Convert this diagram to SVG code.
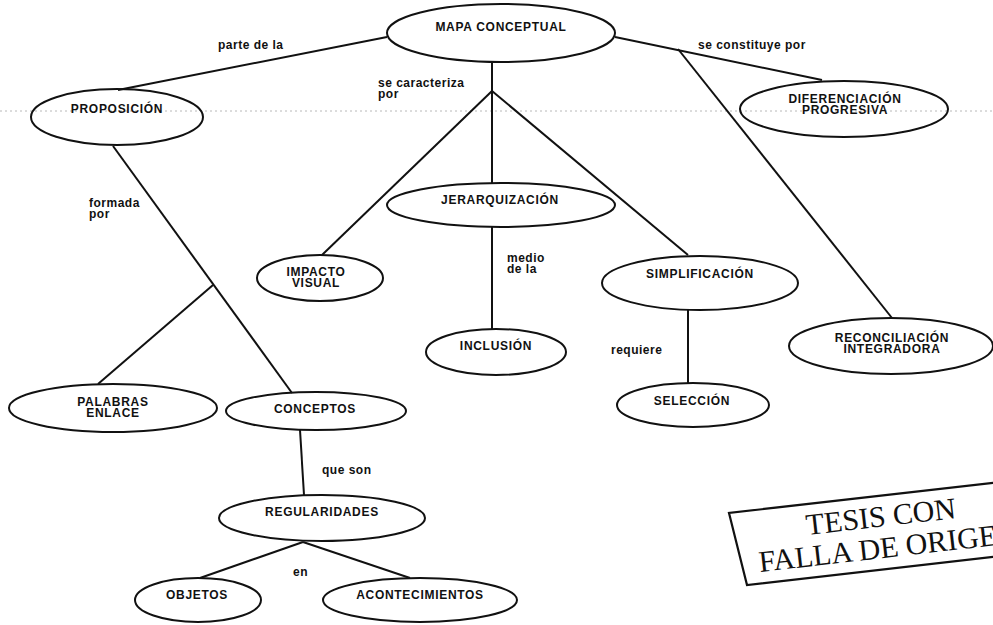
<svg xmlns="http://www.w3.org/2000/svg" width="993" height="625" viewBox="0 0 993 625">
<style>
.n ellipse{fill:none;stroke:#111;stroke-width:2}
.n text{font-family:"Liberation Sans",Arial,sans-serif;font-weight:bold;font-size:12px;letter-spacing:0.7px;fill:#111;text-anchor:middle}
.lbl{font-family:"Liberation Sans",Arial,sans-serif;font-weight:bold;font-size:12px;letter-spacing:0.5px;fill:#111}
#connectors line,#connectors polyline{stroke:#111;stroke-width:2;fill:none}
.stamp{font-family:"Liberation Serif","Times New Roman",serif;font-size:30px;fill:#111}
</style>
<rect width="993" height="625" fill="#ffffff"/>
<line x1="0" y1="111" x2="993" y2="111" stroke="#b8b8b8" stroke-width="1" stroke-dasharray="2 3"/>
<g id="connectors">
<polyline points="387,37 118,90"/>
<line x1="492" y1="62" x2="492" y2="183"/>
<line x1="492" y1="91" x2="322" y2="255"/>
<line x1="492" y1="91" x2="688" y2="255"/>
<line x1="492" y1="227" x2="492" y2="329"/>
<line x1="615" y1="37" x2="822" y2="80"/>
<line x1="678" y1="49" x2="892" y2="318"/>
<line x1="113" y1="146" x2="292" y2="393"/>
<line x1="213" y1="285" x2="98" y2="384"/>
<line x1="688" y1="310" x2="688" y2="384"/>
<line x1="300" y1="430" x2="304" y2="495"/>
<line x1="303" y1="542" x2="200" y2="578"/>
<line x1="303" y1="542" x2="410" y2="578"/>
</g>
<g id="labels">
<text class="lbl" x="218" y="49">parte de la</text>
<text class="lbl" x="378" y="87">se caracteriza<tspan x="378" dy="11">por</tspan></text>
<text class="lbl" x="698" y="49">se constituye por</text>
<text class="lbl" x="89" y="207">formada<tspan x="89" dy="11">por</tspan></text>
<text class="lbl" x="507" y="262">medio<tspan x="507" dy="11">de la</tspan></text>
<text class="lbl" x="611" y="354">requiere</text>
<text class="lbl" x="322" y="474">que son</text>
<text class="lbl" x="293" y="576">en</text>
</g>
<g id="mapa" class="n"><ellipse cx="501" cy="33" rx="114" ry="29"/><text x="501" y="31">MAPA CONCEPTUAL</text></g>
<g id="proposicion" class="n"><ellipse cx="117" cy="117" rx="86" ry="28"/><text x="117" y="113">PROPOSICIÓN</text></g>
<g id="diferenciacion" class="n"><ellipse cx="844" cy="109" rx="104" ry="28"/><text x="845" y="103">DIFERENCIACIÓN<tspan x="845" dy="11">PROGRESIVA</tspan></text></g>
<g id="jerarquizacion" class="n"><ellipse cx="501" cy="205" rx="114" ry="22"/><text x="500" y="204">JERARQUIZACIÓN</text></g>
<g id="impacto" class="n"><ellipse cx="320" cy="278" rx="63" ry="23"/><text x="316" y="276">IMPACTO<tspan x="316" dy="11">VISUAL</tspan></text></g>
<g id="simplificacion" class="n"><ellipse cx="700" cy="283" rx="98" ry="27"/><text x="700" y="278">SIMPLIFICACIÓN</text></g>
<g id="inclusion" class="n"><ellipse cx="496" cy="352" rx="70" ry="23"/><text x="496" y="350">INCLUSIÓN</text></g>
<g id="reconciliacion" class="n"><ellipse cx="891" cy="346" rx="102" ry="28"/><text x="892" y="342">RECONCILIACIÓN<tspan x="892" dy="11">INTEGRADORA</tspan></text></g>
<g id="seleccion" class="n"><ellipse cx="693" cy="405" rx="76" ry="22"/><text x="692" y="405">SELECCIÓN</text></g>
<g id="palabras" class="n"><ellipse cx="113" cy="408" rx="104" ry="24"/><text x="113" y="406">PALABRAS<tspan x="113" dy="11">ENLACE</tspan></text></g>
<g id="conceptos" class="n"><ellipse cx="316" cy="411" rx="90" ry="19"/><text x="315" y="413">CONCEPTOS</text></g>
<g id="regularidades" class="n"><ellipse cx="322" cy="518" rx="103" ry="23"/><text x="322" y="516">REGULARIDADES</text></g>
<g id="objetos" class="n"><ellipse cx="198" cy="600" rx="63" ry="22"/><text x="197" y="599">OBJETOS</text></g>
<g id="acontecimientos" class="n"><ellipse cx="420" cy="600" rx="97" ry="22"/><text x="420" y="599">ACONTECIMIENTOS</text></g>
<g id="stamp">
<polyline points="1000,482 729,513 747,585 1000,556" fill="none" stroke="#111" stroke-width="2.2"/>
<text class="stamp" x="807" y="535" transform="rotate(-6.5 807 535)">TESIS CON</text>
<text class="stamp" x="760" y="572" transform="rotate(-6.5 760 572)">FALLA DE ORIGEN</text>
</g>
</svg>
